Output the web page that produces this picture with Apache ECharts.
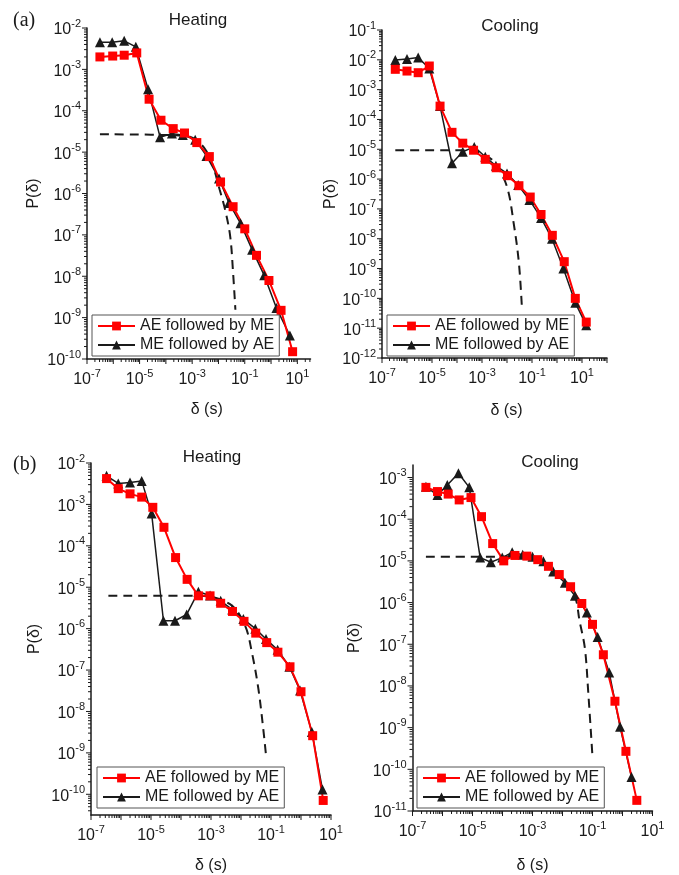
<!DOCTYPE html>
<html>
<head>
<meta charset="utf-8">
<script src="https://cdn.jsdelivr.net/npm/echarts@6/dist/echarts.min.js"></script>
<style>
html, body { margin: 0; padding: 0; background: #fff; }
#chart { width: 679px; height: 875px; }
</style>
</head>
<body>
<div id="chart"></div>
<script>
// ---- (a) Heating ----
const aHeatDeltaAE = [3.1e-7, 9.5e-7, 2.6e-6, 7.8e-6, 2.3e-5, 6.5e-5, 1.9e-4, 5.1e-4, 1.5e-3, 4.5e-3, 0.012, 0.036, 0.10, 0.28, 0.83, 2.4, 6.6];
const aHeatProbAE = [2.0e-3, 2.1e-3, 2.2e-3, 2.5e-3, 1.9e-4, 5.9e-5, 3.7e-5, 2.9e-5, 1.7e-5, 7.8e-6, 1.9e-6, 4.8e-7, 1.4e-7, 3.2e-8, 7.9e-9, 1.5e-9, 1.5e-10];
const aHeatDeltaME = [3.1e-7, 9.1e-7, 2.6e-6, 7.2e-6, 2.1e-5, 6.0e-5, 1.7e-4, 4.4e-4, 1.3e-3, 3.5e-3, 0.0105, 0.025, 0.069, 0.19, 0.55, 1.6, 5.2];
const aHeatProbME = [4.5e-3, 4.5e-3, 4.9e-3, 3.5e-3, 3.3e-4, 2.3e-5, 2.8e-5, 2.6e-5, 2.0e-5, 8.1e-6, 2.3e-6, 5.9e-7, 1.9e-7, 4.4e-8, 1.05e-8, 1.7e-9, 3.7e-10];
const aHeatFitDelta = [3.1e-7, 5.0e-4, 1.5e-3, 3.5e-3, 6.3e-3, 0.011, 0.018, 0.028, 0.036, 0.044];
const aHeatFitProb = [2.7e-5, 2.5e-5, 1.9e-5, 1.05e-5, 4.5e-6, 1.26e-6, 4.0e-7, 9.1e-8, 1.2e-8, 1.55e-9];

// ---- (a) Cooling ----
const aCoolDeltaAE = [3.4e-7, 1.0e-6, 2.8e-6, 7.8e-6, 2.1e-5, 6.3e-5, 1.7e-4, 4.6e-4, 1.35e-3, 3.7e-3, 0.0105, 0.030, 0.085, 0.23, 0.65, 1.95, 5.4, 14.8];
const aCoolProbAE = [4.8e-3, 4.2e-3, 3.7e-3, 6.2e-3, 2.8e-4, 3.7e-5, 1.6e-5, 9.3e-6, 4.6e-6, 2.4e-6, 1.3e-6, 6.0e-7, 2.5e-7, 6.5e-8, 1.3e-8, 1.7e-9, 1.0e-10, 1.6e-11];
const aCoolDeltaME = [3.4e-7, 1.0e-6, 2.8e-6, 7.8e-6, 2.1e-5, 6.3e-5, 1.7e-4, 4.9e-4, 1.35e-3, 3.6e-3, 0.010, 0.028, 0.079, 0.23, 0.63, 1.8, 5.4, 14.8];
const aCoolProbME = [9.8e-3, 0.0107, 0.012, 5.1e-3, 2.8e-4, 3.4e-6, 8.3e-6, 1.2e-5, 5.6e-6, 2.8e-6, 1.55e-6, 6.3e-7, 2.0e-7, 5.0e-8, 1.0e-8, 1.0e-9, 7.1e-11, 1.26e-11];
const aCoolFitDelta = [3.4e-7, 2.5e-4, 1.2e-3, 3.4e-3, 0.010, 0.0186, 0.030, 0.040];
const aCoolFitProb = [9.3e-6, 9.3e-6, 6.5e-6, 3.4e-6, 5.5e-7, 3.2e-8, 1.5e-9, 4.0e-11];

// ---- (b) Heating ----
const bHeatDeltaAE = [3.3e-7, 8.1e-7, 2.0e-6, 4.9e-6, 1.15e-5, 2.7e-5, 6.6e-5, 1.6e-4, 3.8e-4, 9.3e-4, 2.1e-3, 5.2e-3, 0.0126, 0.031, 0.072, 0.17, 0.43, 1.0, 2.45, 5.5];
const bHeatProbAE = [4.2e-3, 2.4e-3, 1.8e-3, 1.5e-3, 8.5e-4, 2.8e-4, 5.2e-5, 1.55e-5, 6.2e-6, 6.2e-6, 4.1e-6, 2.6e-6, 1.5e-6, 7.8e-7, 4.6e-7, 2.7e-7, 1.2e-7, 3.0e-8, 2.6e-9, 7.1e-11];
const bHeatDeltaME = [3.3e-7, 8.1e-7, 2.0e-6, 4.9e-6, 1.05e-5, 2.6e-5, 6.3e-5, 1.55e-4, 3.8e-4, 9.3e-4, 2.1e-3, 5.1e-3, 0.012, 0.030, 0.068, 0.166, 0.41, 0.93, 2.3, 5.2];
const bHeatProbME = [4.9e-3, 3.2e-3, 3.4e-3, 3.7e-3, 6.0e-4, 1.55e-6, 1.55e-6, 2.2e-6, 7.8e-6, 6.3e-6, 4.7e-6, 2.9e-6, 1.7e-6, 1.0e-6, 5.6e-7, 3.1e-7, 1.2e-7, 3.2e-8, 3.2e-9, 1.3e-10];
const bHeatFitDelta = [3.8e-7, 4.3e-4, 4.3e-3, 0.0135, 0.023, 0.038, 0.055, 0.068];
const bHeatFitProb = [6.2e-6, 6.2e-6, 3.9e-6, 1.2e-6, 2.7e-7, 3.5e-8, 3.9e-9, 8.9e-10];

// ---- (b) Cooling ----
const bCoolDeltaAE = [2.8e-7, 6.8e-7, 1.55e-6, 3.6e-6, 8.9e-6, 2.0e-5, 4.7e-5, 1.1e-4, 2.6e-4, 6.5e-4, 1.5e-3, 3.4e-3, 7.8e-3, 0.0186, 0.044, 0.10, 0.23, 0.56, 1.3, 3.0];
const bCoolProbAE = [5.8e-4, 4.6e-4, 4.0e-4, 2.9e-4, 3.3e-4, 1.15e-4, 2.6e-5, 1.0e-5, 1.35e-5, 1.3e-5, 1.07e-5, 7.4e-6, 4.7e-6, 2.4e-6, 9.5e-7, 3.0e-7, 5.6e-8, 4.3e-9, 2.7e-10, 1.8e-11];
const bCoolDeltaME = [2.8e-7, 6.8e-7, 1.45e-6, 3.4e-6, 7.8e-6, 1.8e-5, 4.1e-5, 9.8e-5, 2.1e-4, 4.7e-4, 1.0e-3, 2.3e-3, 4.9e-3, 0.012, 0.026, 0.065, 0.148, 0.36, 0.83, 2.0];
const bCoolProbME = [6.0e-4, 3.8e-4, 6.6e-4, 1.26e-3, 5.8e-4, 1.2e-5, 9.3e-6, 1.2e-5, 1.6e-5, 1.4e-5, 1.26e-5, 9.8e-6, 5.6e-6, 3.0e-6, 1.45e-6, 5.8e-7, 1.5e-7, 2.1e-8, 1.05e-9, 6.5e-11];
const bCoolFitDelta = [2.8e-7, 1.0e-3, 4.9e-3, 0.023, 0.038, 0.056, 0.072, 0.10];
const bCoolFitProb = [1.26e-5, 1.26e-5, 6.2e-6, 1.74e-6, 3.3e-7, 7.8e-8, 7.2e-9, 2.0e-10];

const nameAE = 'AE followed by ME';
const nameME = 'ME followed by AE';

// axis ranges are decades (log10)
const panels = [
    { title: 'Heating', ae: [aHeatDeltaAE, aHeatProbAE], me: [aHeatDeltaME, aHeatProbME], fit: [aHeatFitDelta, aHeatFitProb],
      grid: { left: 87, top: 28, width: 223.5, height: 331 }, x: [-7, 1.5], y: [-10, -2],
      legend: [92, 315], titlePos: [198, 20], yGap: 45, xGap: 43, xShift: 16 },
    { title: 'Cooling', ae: [aCoolDeltaAE, aCoolProbAE], me: [aCoolDeltaME, aCoolProbME], fit: [aCoolFitDelta, aCoolFitProb],
      grid: { left: 382, top: 30, width: 225, height: 328 }, x: [-7, 2], y: [-12, -1],
      legend: [387, 315], titlePos: [510, 26], yGap: 42, xGap: 45, xShift: 24 },
    { title: 'Heating', ae: [bHeatDeltaAE, bHeatProbAE], me: [bHeatDeltaME, bHeatProbME], fit: [bHeatFitDelta, bHeatFitProb],
      grid: { left: 91, top: 463, width: 240, height: 354 }, x: [-7, 1], y: [-10.5, -2],
      legend: [97, 767], titlePos: [212, 457], yGap: 48, xGap: 43, xShift: 0 },
    { title: 'Cooling', ae: [bCoolDeltaAE, bCoolProbAE], me: [bCoolDeltaME, bCoolProbME], fit: [bCoolFitDelta, bCoolFitProb],
      grid: { left: 412.5, top: 465, width: 240, height: 348 }, x: [-7, 1], y: [-11, -2.7],
      legend: [417, 767], titlePos: [550, 462], yGap: 50, xGap: 47, xShift: 0 }
];

const font = 'Liberation Sans, Arial, sans-serif';
const ink = '#1a1a1a';

function pairs(xs, ys) {
    return xs.map((d, i) => [Math.log10(d), Math.log10(ys[i])]);
}

function powLabel(v, oddOnly) {
    const n = Math.round(v);
    if (Math.abs(v - n) > 1e-6) return '';
    if (oddOnly && Math.abs(n % 2) !== 1) return '';
    return '{b|10}{s|' + n + '}';
}

const labelRich = {
    b: { fontSize: 16, color: ink, fontFamily: font, verticalAlign: 'bottom' },
    s: { fontSize: 11, color: ink, fontFamily: font, verticalAlign: 'bottom', padding: [0, 0, 9, 0] }
};

// log-style ticks: decades are major, 2..9 minor
function logTicks(min, max) {
    const out = [];
    for (let n = Math.floor(min); n <= Math.ceil(max); n++) {
        for (let k = 1; k <= 9; k++) {
            const v = n + Math.log10(k);
            if (v >= min - 1e-9 && v <= max + 1e-9) out.push([v, k === 1]);
        }
    }
    return out;
}

const option = {
    animation: false,
    backgroundColor: '#fff',
    grid: [], xAxis: [], yAxis: [], legend: [], series: [],
    graphic: [
        { type: 'text', x: 13, y: 21, style: { text: '(a)', font: '20px "Liberation Serif", serif', fill: ink, verticalAlign: 'middle' } },
        { type: 'text', x: 13, y: 465, style: { text: '(b)', font: '20px "Liberation Serif", serif', fill: ink, verticalAlign: 'middle' } }
    ]
};

panels.forEach((p, i) => {
    option.grid.push(Object.assign({ containLabel: false }, p.grid));
    option.xAxis.push({
        type: 'value', gridIndex: i, min: p.x[0], max: p.x[1], interval: 0.5,
        axisLine: { onZero: false, lineStyle: { color: ink, width: 1.5 } },
        axisTick: { show: false }, splitLine: { show: false },
        axisLabel: { margin: 9, hideOverlap: false, formatter: v => powLabel(v, true), rich: labelRich },
        name: 'δ (s)', nameLocation: 'middle', nameGap: p.xGap,
        nameTextStyle: { fontSize: 16, color: ink, fontFamily: font, padding: [0, 0, 0, p.xShift] }
    });
    option.yAxis.push({
        type: 'value', gridIndex: i, min: p.y[0], max: p.y[1], interval: 0.5,
        axisLine: { onZero: false, lineStyle: { color: ink, width: 1.5 } },
        axisTick: { show: false }, splitLine: { show: false },
        axisLabel: { margin: 6, hideOverlap: false, formatter: v => powLabel(v, false), rich: labelRich },
        name: 'P(δ)', nameLocation: 'middle', nameGap: p.yGap,
        nameTextStyle: { fontSize: 16, color: ink, fontFamily: font }
    });
    option.legend.push({
        left: p.legend[0], top: p.legend[1], orient: 'vertical',
        data: [nameAE, nameME],
        backgroundColor: '#fff', borderColor: '#555', borderWidth: 1,
        padding: [3, 5, 3, 5], itemGap: 3, itemWidth: 37, itemHeight: 11,
        textStyle: { fontSize: 16, color: ink, fontFamily: font, lineHeight: 16 }
    });
    option.graphic.push({
        type: 'text', x: p.titlePos[0], y: p.titlePos[1],
        style: { text: p.title, font: '17px ' + font, fill: ink, align: 'center', verticalAlign: 'middle' }
    });

    // one anchor item at the axes' origin; the group draws all log ticks
    const xTicks = logTicks(p.x[0], p.x[1]);
    const yTicks = logTicks(p.y[0], p.y[1]);
    option.series.push({
        type: 'custom', xAxisIndex: i, yAxisIndex: i, silent: true, clip: false, z: 5,
        data: [[p.x[0], p.y[0]]],
        renderItem: (params, api) => {
            const children = [];
            xTicks.forEach(t => {
                const c = api.coord([t[0], p.y[0]]);
                const len = t[1] ? 5 : 3;
                children.push({ type: 'line', shape: { x1: c[0], y1: c[1], x2: c[0], y2: c[1] + len }, style: { stroke: ink, lineWidth: 1 } });
            });
            yTicks.forEach(t => {
                const c = api.coord([p.x[0], t[0]]);
                const len = t[1] ? 5 : 3;
                children.push({ type: 'line', shape: { x1: c[0] - len, y1: c[1], x2: c[0], y2: c[1] }, style: { stroke: ink, lineWidth: 1 } });
            });
            return { type: 'group', children: children };
        }
    });

    option.series.push({
        name: 'fit', type: 'line', xAxisIndex: i, yAxisIndex: i, data: pairs(p.fit[0], p.fit[1]),
        showSymbol: false, smooth: 0.35, silent: true,
        lineStyle: { color: ink, width: 2, type: [9, 6] }
    });
    option.series.push({
        name: nameME, type: 'line', xAxisIndex: i, yAxisIndex: i, data: pairs(p.me[0], p.me[1]),
        symbol: 'triangle', symbolSize: 10, color: ink,
        itemStyle: { color: ink }, lineStyle: { color: ink, width: 1.5 }
    });
    option.series.push({
        name: nameAE, type: 'line', xAxisIndex: i, yAxisIndex: i, data: pairs(p.ae[0], p.ae[1]),
        symbol: 'rect', symbolSize: 9, color: '#ff0000',
        itemStyle: { color: '#ff0000' }, lineStyle: { color: '#ff0000', width: 2 }
    });
});

const chart = echarts.init(document.getElementById('chart'), null, { renderer: 'canvas' });
chart.setOption(option);
</script>
</body>
</html>
